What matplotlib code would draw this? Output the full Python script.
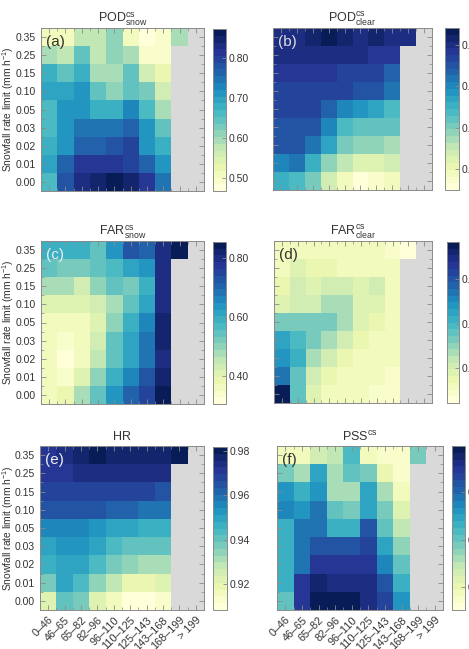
import numpy as np
import matplotlib
matplotlib.use("Agg")
import matplotlib.pyplot as plt
from matplotlib.ticker import FixedLocator

plt.rcParams['font.family'] = ['Liberation Sans', 'DejaVu Sans']
plt.rcParams['mathtext.default'] = 'regular'

nan = np.nan
x_labels = ["0\u201346", "46\u201365", "65\u201382", "82\u201396", "96\u2013110",
            "110\u2013125", "125\u2013143", "143\u2013168", "168\u2013199", "> 199"]
# rows from top (0.35) to bottom (0.00)
y_labels = ["0.35", "0.25", "0.15", "0.10", "0.05", "0.03", "0.02", "0.01", "0.00"]

pod_snow = [
    [0.51, 0.51, 0.57, 0.57, 0.61, 0.51, 0.47, 0.49, 0.59, nan],
    [0.59, 0.57, 0.65, 0.58, 0.61, 0.60, 0.50, 0.49, nan, nan],
    [0.68, 0.65, 0.67, 0.59, 0.59, 0.65, 0.56, 0.52, nan, nan],
    [0.69, 0.69, 0.71, 0.64, 0.61, 0.65, 0.63, 0.56, nan, nan],
    [0.66, 0.71, 0.71, 0.67, 0.67, 0.73, 0.66, 0.60, nan, nan],
    [0.66, 0.72, 0.74, 0.74, 0.75, 0.77, 0.71, 0.64, nan, nan],
    [0.67, 0.72, 0.77, 0.77, 0.78, 0.79, 0.72, 0.67, nan, nan],
    [0.69, 0.77, 0.81, 0.81, 0.81, 0.80, 0.77, 0.71, nan, nan],
    [0.66, 0.78, 0.83, 0.845, 0.87, 0.85, 0.81, 0.75, nan, nan],
]
pod_clear = [
    [0.979, 0.980, 0.983, 0.986, 0.983, 0.980, 0.983, 0.980, 0.980, nan],
    [0.979, 0.980, 0.980, 0.979, 0.979, 0.979, 0.976, 0.976, nan, nan],
    [0.976, 0.976, 0.976, 0.976, 0.975, 0.975, 0.972, 0.966, nan, nan],
    [0.975, 0.975, 0.975, 0.975, 0.972, 0.969, 0.969, 0.965, nan, nan],
    [0.972, 0.972, 0.972, 0.966, 0.961, 0.957, 0.953, 0.949, nan, nan],
    [0.971, 0.971, 0.969, 0.961, 0.949, 0.945, 0.945, 0.943, nan, nan],
    [0.971, 0.969, 0.963, 0.953, 0.941, 0.937, 0.937, 0.935, nan, nan],
    [0.961, 0.965, 0.951, 0.937, 0.932, 0.924, 0.926, 0.927, nan, nan],
    [0.951, 0.949, 0.940, 0.927, 0.918, 0.912, 0.914, 0.918, nan, nan],
]
far_snow = [
    [0.590, 0.590, 0.590, 0.552, 0.634, 0.717, 0.700, 0.788, 0.843, nan],
    [0.536, 0.525, 0.525, 0.552, 0.569, 0.607, 0.645, 0.788, nan, nan],
    [0.481, 0.481, 0.442, 0.497, 0.536, 0.525, 0.580, 0.799, nan, nan],
    [0.415, 0.415, 0.415, 0.442, 0.470, 0.536, 0.607, 0.799, nan, nan],
    [0.371, 0.360, 0.360, 0.415, 0.497, 0.580, 0.662, 0.810, nan, nan],
    [0.360, 0.332, 0.371, 0.442, 0.552, 0.607, 0.678, 0.810, nan, nan],
    [0.360, 0.316, 0.371, 0.459, 0.552, 0.623, 0.689, 0.799, nan, nan],
    [0.360, 0.349, 0.415, 0.497, 0.580, 0.662, 0.733, 0.810, nan, nan],
    [0.360, 0.387, 0.470, 0.552, 0.634, 0.700, 0.744, 0.854, nan, nan],
]
far_clear = [
    [0.013, 0.013, 0.011, 0.011, 0.011, 0.011, 0.011, 0.010, 0.006, nan],
    [0.013, 0.017, 0.015, 0.015, 0.013, 0.013, 0.013, 0.011, nan, nan],
    [0.015, 0.020, 0.019, 0.022, 0.022, 0.019, 0.020, 0.013, nan, nan],
    [0.019, 0.022, 0.020, 0.026, 0.026, 0.019, 0.019, 0.013, nan, nan],
    [0.033, 0.033, 0.033, 0.033, 0.026, 0.017, 0.015, 0.013, nan, nan],
    [0.044, 0.039, 0.032, 0.026, 0.020, 0.015, 0.013, 0.011, nan, nan],
    [0.049, 0.041, 0.026, 0.020, 0.015, 0.013, 0.011, 0.011, nan, nan],
    [0.055, 0.037, 0.022, 0.015, 0.013, 0.011, 0.011, 0.010, nan, nan],
    [0.077, 0.037, 0.019, 0.013, 0.013, 0.011, 0.010, 0.010, nan, nan],
]
hr = [
    [0.971, 0.973, 0.978, 0.981, 0.978, 0.977, 0.977, 0.976, 0.982, nan],
    [0.971, 0.971, 0.975, 0.975, 0.975, 0.973, 0.973, 0.973, nan, nan],
    [0.969, 0.967, 0.969, 0.969, 0.967, 0.967, 0.967, 0.966, nan, nan],
    [0.966, 0.966, 0.966, 0.964, 0.961, 0.961, 0.960, 0.960, nan, nan],
    [0.956, 0.956, 0.956, 0.954, 0.951, 0.951, 0.946, 0.946, nan, nan],
    [0.951, 0.954, 0.952, 0.949, 0.944, 0.941, 0.939, 0.939, nan, nan],
    [0.946, 0.951, 0.951, 0.944, 0.938, 0.934, 0.930, 0.932, nan, nan],
    [0.936, 0.949, 0.944, 0.934, 0.927, 0.919, 0.919, 0.923, nan, nan],
    [0.923, 0.939, 0.936, 0.921, 0.915, 0.9095, 0.9095, 0.914, nan, nan],
]
pss = [
    [0.387, 0.387, 0.438, 0.449, 0.518, 0.387, 0.369, 0.369, 0.483, nan],
    [0.490, 0.462, 0.542, 0.456, 0.497, 0.490, 0.404, 0.369, nan, nan],
    [0.566, 0.525, 0.566, 0.456, 0.462, 0.542, 0.456, 0.393, nan, nan],
    [0.576, 0.559, 0.587, 0.497, 0.483, 0.552, 0.483, 0.421, nan, nan],
    [0.525, 0.594, 0.587, 0.525, 0.525, 0.611, 0.497, 0.449, nan, nan],
    [0.525, 0.594, 0.621, 0.611, 0.611, 0.635, 0.552, 0.473, nan, nan],
    [0.525, 0.587, 0.645, 0.645, 0.645, 0.645, 0.576, 0.507, nan, nan],
    [0.525, 0.645, 0.669, 0.663, 0.663, 0.656, 0.621, 0.531, nan, nan],
    [0.507, 0.645, 0.697, 0.690, 0.690, 0.656, 0.628, 0.566, nan, nan],
]

titles = [r'POD$^{cs}_{snow}$', r'POD$^{cs}_{clear}$', r'FAR$^{cs}_{snow}$',
          r'FAR$^{cs}_{clear}$', 'HR', r'PSS$^{cs}$']
panel_tags = ['(a)', '(b)', '(c)', '(d)', '(e)', '(f)']
tag_colors = ['#333333', '#dddddd', '#eeeeee', '#333333', '#eeeeee', '#333333']
datasets = [pod_snow, pod_clear, far_snow, far_clear, hr, pss]
cbar_ticks = [[0.50, 0.60, 0.70, 0.80], [0.92, 0.94, 0.96, 0.98],
              [0.40, 0.60, 0.80], [0.02, 0.04, 0.06],
              [0.92, 0.94, 0.96, 0.98], [0.40, 0.50, 0.60]]
vlims = [(0.467, 0.873), (0.910, 0.988), (0.305, 0.854), (0.004, 0.077),
         (0.908, 0.982), (0.352, 0.697)]

W, H = 469, 649
# pixel boxes: (left, top, right, bottom)
ax_boxes = [(41, 28, 204, 191), (273, 28, 432, 190), (41, 241, 204, 404),
            (274, 241, 432, 403), (40, 446, 204, 610), (277, 446, 443, 610)]
cb_boxes = [(213, 29, 226, 191), (445, 28, 459, 190), (213, 242, 226, 404),
            (447, 242, 459, 403), (213, 447, 227, 610), (452, 446, 465, 610)]

def frac(b):
    l, t, r, bt = b
    return [l / W, (H - bt) / H, (r - l) / W, (bt - t) / H]

cmap = plt.get_cmap('YlGnBu', 24).copy()
cmap.set_bad('#d9d9d9')
txtc = '#333333'
spc = '#8a8a8a'

fig = plt.figure(figsize=(W / 100, H / 100), dpi=100)
nx, ny = len(x_labels), len(y_labels)
for i, data in enumerate(datasets):
    ax = fig.add_axes(frac(ax_boxes[i]))
    arr = np.ma.masked_invalid(np.array(data, dtype=float))
    vmin, vmax = vlims[i]
    m = ax.pcolormesh(np.arange(nx + 1), np.arange(ny + 1), arr, cmap=cmap,
                      vmin=vmin, vmax=vmax)
    ax.set_xlim(0, nx)
    ax.set_ylim(ny, 0)
    ax.set_xticks(np.arange(nx) + 0.5)
    ax.set_yticks(np.arange(ny) + 0.5)
    ax.xaxis.set_minor_locator(FixedLocator(np.arange(nx + 1)))
    ax.yaxis.set_minor_locator(FixedLocator(np.arange(ny + 1)))
    ax.tick_params(which='both', direction='in', top=True, right=True,
                   color=spc, labelsize=7.5, labelcolor=txtc)
    ax.tick_params(which='major', length=3.5, width=0.6)
    ax.tick_params(which='minor', length=2, width=0.5)
    for s in ax.spines.values():
        s.set_color(spc)
        s.set_linewidth(0.7)
    if i >= 4:
        ax.set_xticklabels(x_labels, rotation=45, ha='right',
                           rotation_mode='anchor', fontsize=7.8)
    else:
        ax.set_xticklabels([])
    if i % 2 == 0:
        ax.set_yticklabels(y_labels)
        ax.set_ylabel('Snowfall rate limit (mm h$^{-1}$)', fontsize=7.4,
                      color=txtc)
        bw = ax_boxes[i][2] - ax_boxes[i][0]
        ax.yaxis.set_label_coords((16 - ax_boxes[i][0]) / bw, 0.5)
    else:
        ax.set_yticklabels([])
    ax.set_title(titles[i], fontsize=9, color=txtc, pad=4)
    ax.text(0.03, 0.955, panel_tags[i], transform=ax.transAxes, fontsize=11,
            color=tag_colors[i], va='top', ha='left')

    cax = fig.add_axes(frac(cb_boxes[i]))
    cb = fig.colorbar(m, cax=cax)
    cb.set_ticks(cbar_ticks[i])
    cb.set_ticklabels(['%.2f' % t for t in cbar_ticks[i]])
    cb.outline.set_edgecolor(spc)
    cb.outline.set_linewidth(0.7)
    cax.tick_params(labelsize=7.5, labelcolor=txtc, color=spc, length=3,
                    width=0.6, direction='in', pad=2)

fig.savefig('out.png', dpi=100)
